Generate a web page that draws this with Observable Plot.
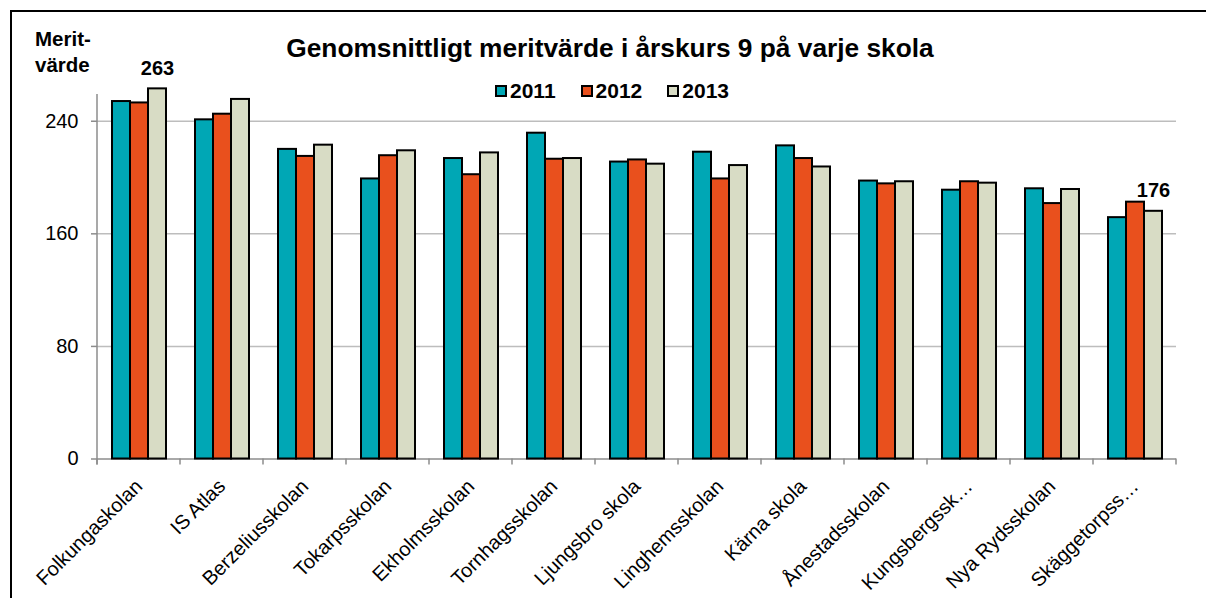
<!DOCTYPE html>
<html>
<head>
<meta charset="utf-8">
<script src="https://cdn.jsdelivr.net/npm/d3@7"></script>
<script src="https://cdn.jsdelivr.net/npm/@observablehq/plot@0.6"></script>
<style>
html, body { margin: 0; padding: 0; background: #fff; }
body { width: 1206px; height: 598px; overflow: hidden; position: relative; font-family: "Liberation Sans", Arial, sans-serif; color: #000; }
#frame { position: absolute; left: 10px; top: 10px; width: 1400px; height: 800px; border-left: 2px solid #000; border-top: 2px solid #000; }
#chart { position: absolute; left: 0; top: 0; }
#title { position: absolute; left: 210px; width: 800px; top: 35px; text-align: center; font-weight: bold; font-size: 26.3px; line-height: 26px; white-space: nowrap; }
#ylabel { position: absolute; left: 35px; top: 26px; font-weight: bold; font-size: 20.5px; line-height: 26px; }
#legend { position: absolute; left: 495px; top: 81px; display: flex; align-items: center; font-weight: bold; font-size: 21px; line-height: 20px; }
#legend .item { display: flex; align-items: center; margin-right: 25px; }
#legend .sw { width: 8px; height: 8px; border: 2px solid #000; margin-right: 3px; }
</style>
</head>
<body>
<div id="frame"></div>
<div id="chart"></div>
<div id="title">Genomsnittligt meritvärde i årskurs 9 på varje skola</div>
<div id="ylabel">Merit-<br>värde</div>
<div id="legend"></div>
<script>
const schools = ["Folkungaskolan", "IS Atlas", "Berzeliusskolan", "Tokarpsskolan", "Ekholmsskolan", "Tornhagsskolan", "Ljungsbro skola", "Linghemsskolan", "Kärna skola", "Ånestadsskolan", "Kungsbergssk…", "Nya Rydsskolan", "Skäggetorpss…"];
const years = ["2011", "2012", "2013"];
const v2011 = [254, 241, 220, 199, 213.5, 231.5, 211, 218, 222.5, 197.5, 191, 192, 171.5];
const v2012 = [253, 245, 215, 215.5, 202, 213, 212.5, 199, 213.5, 195.5, 197, 181.5, 182.5];
const v2013 = [263, 255.5, 223, 219, 217.5, 213.5, 209.5, 208.5, 207.5, 197, 196, 191.5, 176];
const colors = ["#00A7B5", "#E9501D", "#D8DCC5"];
const yTicks = [0, 80, 160, 240];
const labelled = [{school: "Folkungaskolan", year: "2013"}, {school: "Skäggetorpss…", year: "2013"}];

const series = [v2011, v2012, v2013];
const data = [];
schools.forEach((s, i) => years.forEach((y, j) => data.push({school: s, year: y, value: series[j][i]})));
const labelData = data.filter(d => labelled.some(l => l.school === d.school && l.year === d.year));

const chart = Plot.plot({
  width: 1206,
  height: 598,
  marginTop: 94,
  marginBottom: 139.5,
  marginLeft: 94,
  marginRight: 28,
  style: {fontFamily: "'Liberation Sans', Arial, sans-serif", fontSize: "20px", background: "transparent", overflow: "visible"},
  fx: {domain: schools, padding: 0, label: null},
  x: {domain: years, paddingInner: 0, paddingOuter: 0.75, axis: null},
  y: {domain: [0, 259], label: null},
  color: {domain: years, range: colors},
  marks: [
    Plot.ruleY(yTicks.filter(t => t > 0), {stroke: "#BDBDBD", strokeWidth: 1.5}),
    Plot.ruleY([0], {stroke: "#8C8C8C", strokeWidth: 1.5}),
    Plot.axisY({ticks: yTicks, tickSize: 6, tickPadding: 13, fontSize: 20, stroke: "#8C8C8C", fill: "#000", label: null, strokeWidth: 1.5}),
    Plot.axisFx({anchor: "bottom", tickSize: 0, tickPadding: 24, tickRotate: -45, fontSize: 20, fill: "#000", label: null}),
    Plot.barY(data, {fx: "school", x: "year", y: "value", fill: "year", stroke: "#000", strokeWidth: 2}),
    Plot.text(labelData, {fx: "school", x: "year", y: "value", text: d => d3.format("d")(d.value), dy: -14, lineAnchor: "bottom", fontWeight: "bold", fontSize: 20, fill: "#000"})
  ]
});
document.getElementById("chart").appendChild(chart);

// axis line and category boundary ticks, placed with the plot's own scales
const fx = chart.scale("fx");
const ys = chart.scale("y");
const y0 = ys.apply(0);
const yTop = ys.apply(259);
const svg = d3.select(chart);
const g = svg.append("g").attr("stroke", "#8C8C8C").attr("stroke-width", 1.5);
const bounds = schools.map(s => fx.apply(s)).concat([fx.apply(schools[schools.length - 1]) + fx.bandwidth]);
bounds.forEach(b => g.append("line").attr("x1", b).attr("x2", b).attr("y1", y0).attr("y2", y0 + 6));
g.append("line").attr("x1", bounds[0]).attr("x2", bounds[0]).attr("y1", yTop).attr("y2", y0 + 6);

// legend
const legend = d3.select("#legend");
years.forEach((y, i) => {
  const it = legend.append("div").attr("class", "item");
  it.append("div").attr("class", "sw").style("background", colors[i]);
  it.append("span").text(y);
});
</script>
</body>
</html>
